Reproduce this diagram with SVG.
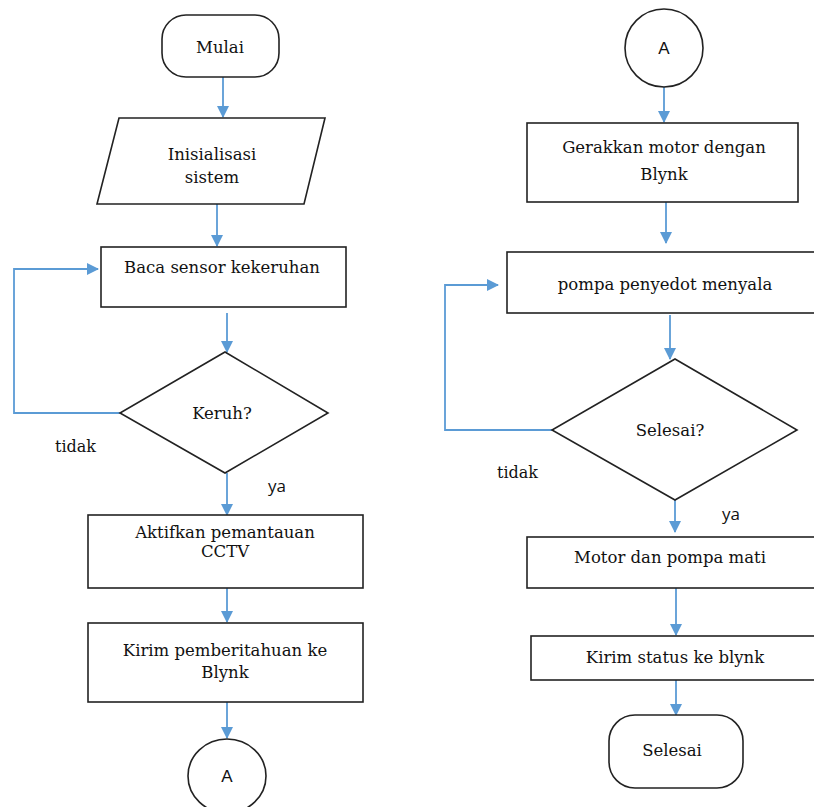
<svg xmlns="http://www.w3.org/2000/svg" width="814" height="807" viewBox="0 0 814 807">
<style>
.s{fill:#fff;stroke:#222;stroke-width:1.6}
.t{font-family:"DejaVu Serif","Liberation Serif",serif;font-size:16.5px;fill:#111;text-anchor:middle}
.l{font-family:"DejaVu Serif","Liberation Serif",serif;font-size:16px;fill:#111}
.y{font-family:"Open Sans","DejaVu Sans",sans-serif;font-size:17px;fill:#111}
.a{font-family:"Liberation Sans",Arial,sans-serif;font-size:17px;fill:#111;text-anchor:middle}
.c{fill:none;stroke:#5B9BD5;stroke-width:1.8;marker-end:url(#ah)}
</style>
<defs>
<marker id="ah" viewBox="0 0 12 12" refX="11" refY="6" markerWidth="12" markerHeight="12" markerUnits="userSpaceOnUse" orient="auto">
<path d="M0,0 L12,6 L0,12 Z" fill="#5B9BD5"/>
</marker>
</defs>
<rect width="814" height="807" fill="#fff"/>
<g id="connectors">
<path class="c" d="M223,77 V117"/>
<path class="c" d="M217,204 V246"/>
<path class="c" d="M120,413 H14 V269 H98"/>
<path class="c" d="M227,313 V352"/>
<path class="c" d="M227,473 V515"/>
<path class="c" d="M227,588 V622"/>
<path class="c" d="M227,702 V738"/>
<path class="c" d="M664,77 V122"/>
<path class="c" d="M666,202 V243"/>
<path class="c" d="M552,430 H445 V285 H498"/>
<path class="c" d="M670,315 V359"/>
<path class="c" d="M675,488 V532"/>
<path class="c" d="M676,588 V635"/>
<path class="c" d="M676,680 V715"/>
</g>
<g id="mulai">
<rect class="s" x="162" y="15" width="117" height="62" rx="24"/>
<text class="t" x="220" y="53">Mulai</text>
</g>
<g id="inisialisasi">
<polygon class="s" points="119,118 325,118 304,204 97,204"/>
<text class="t" x="212" y="160">Inisialisasi</text>
<text class="t" x="212" y="183">sistem</text>
</g>
<g id="baca">
<rect class="s" x="101" y="247" width="245" height="60"/>
<text class="t" x="222" y="273">Baca sensor kekeruhan</text>
</g>
<g id="keruh">
<polygon class="s" points="225,352 328,413 225,473 120,413"/>
<text class="t" x="222" y="419">Keruh?</text>
</g>
<text class="l" x="55" y="452">tidak</text>
<text class="y" x="268" y="492">ya</text>
<g id="aktifkan">
<rect class="s" x="88" y="515" width="275" height="73"/>
<text class="t" x="225" y="538">Aktifkan pemantauan</text>
<text class="t" x="225" y="557">CCTV</text>
</g>
<g id="kirim1">
<rect class="s" x="88" y="623" width="275" height="79"/>
<text class="t" x="225" y="656">Kirim pemberitahuan ke</text>
<text class="t" x="225" y="678">Blynk</text>
</g>
<g id="a1">
<ellipse class="s" cx="227" cy="776" rx="39" ry="37"/>
<text class="a" x="227" y="782">A</text>
</g>
<g id="a2">
<circle class="s" cx="664" cy="48" r="39"/>
<text class="a" x="664" y="54">A</text>
</g>
<g id="gerakkan">
<rect class="s" x="527" y="123" width="271" height="79"/>
<text class="t" x="664" y="153">Gerakkan motor dengan</text>
<text class="t" x="664" y="180">Blynk</text>
</g>
<g id="pompa">
<rect class="s" x="507" y="252" width="320" height="61"/>
<text class="t" x="665" y="290">pompa penyedot menyala</text>
</g>
<g id="selesai-q">
<polygon class="s" points="675,359 797,430 675,500 552,430"/>
<text class="t" x="670" y="436">Selesai?</text>
</g>
<text class="l" x="497" y="478">tidak</text>
<text class="y" x="722" y="520">ya</text>
<g id="motor">
<rect class="s" x="527" y="537" width="300" height="51"/>
<text class="t" x="670" y="563">Motor dan pompa mati</text>
</g>
<g id="kirim2">
<rect class="s" x="531" y="636" width="296" height="44"/>
<text class="t" x="675" y="663">Kirim status ke blynk</text>
</g>
<g id="selesai">
<rect class="s" x="609" y="715" width="134" height="73" rx="26"/>
<text class="t" x="672" y="756">Selesai</text>
</g>
</svg>
